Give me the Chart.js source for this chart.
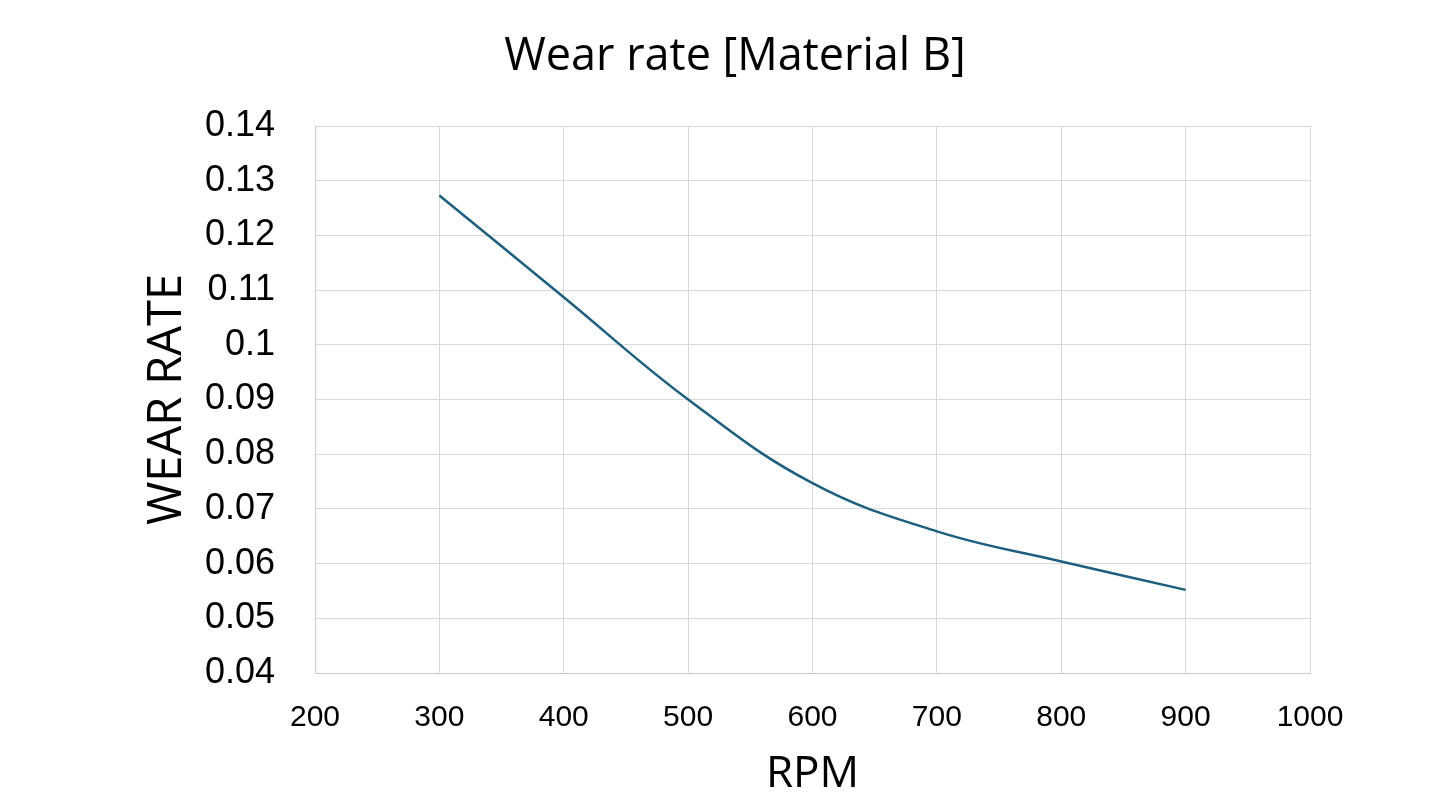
<!DOCTYPE html>
<html>
<head>
<meta charset="utf-8">
<script src="https://cdn.jsdelivr.net/npm/chart.js@4"></script>
<style>
  html, body { margin: 0; padding: 0; background: #fff; }
  #wrap { width: 1430px; height: 796px; }
</style>
</head>
<body>
<div id="wrap"><canvas id="wear-chart"></canvas></div>
<script>
// values
var rpm = [300, 400, 500, 600, 700, 800, 900];
var wearRate = [0.1273, 0.1087, 0.0900, 0.0747, 0.0659, 0.0604, 0.0552];

var chartTitle = 'Wear rate [Material B]';
var xTitle = 'RPM';
var yTitle = 'WEAR RATE';

var points = rpm.map(function(r, i) {
    return { x: r, y: wearRate[i] };
});

var ctx = document.getElementById('wear-chart').getContext('2d');

var chart = new Chart(ctx, {
    type: 'scatter',
    data: {
        datasets: [{
            label: 'Material B',
            data: points,
            yAxisID: 'y',
            showLine: true,
            tension: 0.4,
            borderColor: '#1d5f7e',
            backgroundColor: '#1d5f7e',
            borderWidth: 2.5,
            pointRadius: 0,
            pointHoverRadius: 0
        }]
    },
    options: {
        responsive: true,
        maintainAspectRatio: false,
        animation: false,
        layout: {
            padding: { left: 40, right: 0, top: 0, bottom: 0 }
        },
        plugins: {
            legend: { display: false },
            tooltip: { enabled: false },
            title: {
                display: true,
                text: chartTitle,
                color: '#000',
                font: { family: 'Open Sans', size: 45, weight: 'normal', lineHeight: 1.2 },
                padding: { top: 30, bottom: 42 }
            }
        },
        scales: {
            x: {
                type: 'linear',
                min: 200,
                max: 1000,
                afterFit: function(scale) { scale.height = 123; },
                ticks: {
                    stepSize: 100,
                    color: '#000',
                    padding: 27,
                    font: { family: 'Liberation Sans', size: 30 },
                    callback: function(v) { return String(v); }
                },
                grid: { color: '#d9d9d9', lineWidth: 1, drawTicks: false },
                border: { color: '#c8c8c8', width: 1 },
                title: {
                    display: true,
                    text: xTitle,
                    color: '#000',
                    font: { family: 'Open Sans', size: 44, lineHeight: 1 },
                    padding: { top: 0, bottom: 0 }
                }
            },
            y: {
                type: 'linear',
                position: 'left',
                min: 0.04,
                max: 0.14,
                afterFit: function(scale) { scale.width = 275; },
                ticks: {
                    stepSize: 0.01,
                    color: '#000',
                    padding: 40,
                    font: { family: 'Liberation Sans', size: 36 },
                    callback: function(v) { return +v.toFixed(2); }
                },
                grid: { color: '#d9d9d9', lineWidth: 1, drawTicks: false },
                border: { color: '#c8c8c8', width: 1 },
                title: {
                    display: true,
                    text: yTitle,
                    color: '#000',
                    font: { family: 'Open Sans', size: 47, lineHeight: 1 },
                    padding: { top: 104, bottom: 0 }
                }
            },
            // empty right-hand scale that only keeps the right margin
            yRight: {
                type: 'linear',
                position: 'right',
                afterFit: function(scale) { scale.width = 120; },
                ticks: { display: false },
                grid: { display: false, drawTicks: false },
                border: { display: false }
            }
        }
    }
});
</script>
</body>
</html>
